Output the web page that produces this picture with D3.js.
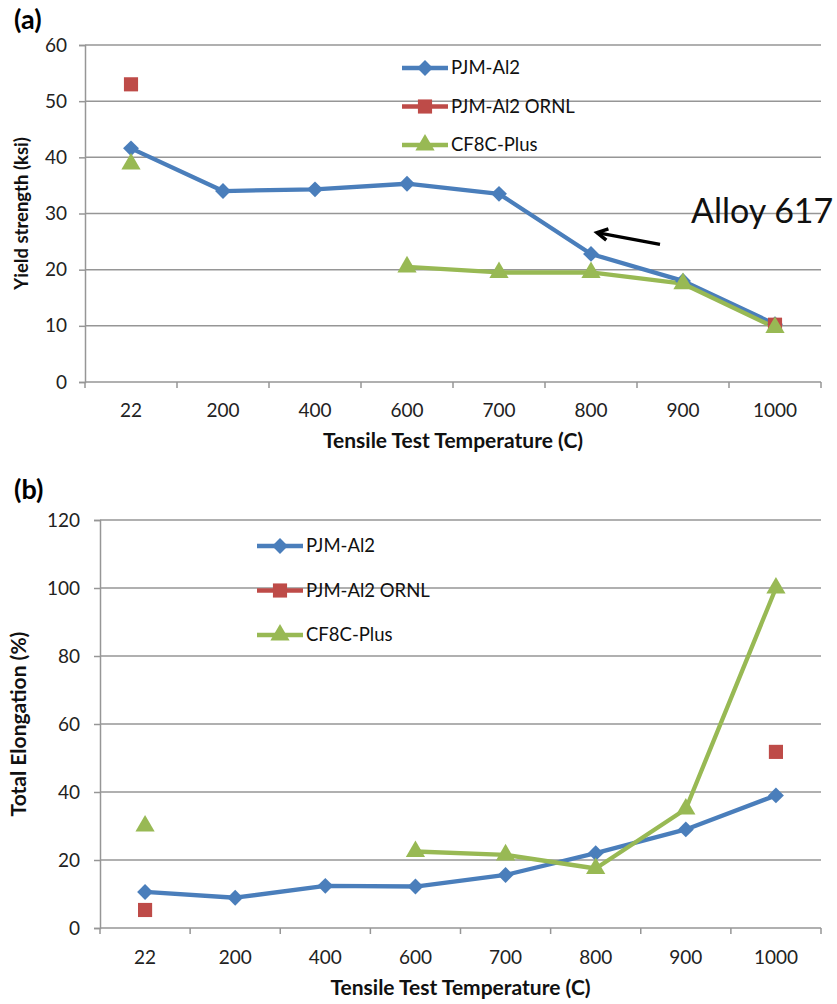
<!DOCTYPE html>
<html><head><meta charset="utf-8">
<script src="https://cdn.jsdelivr.net/npm/d3@7"></script>
<style>body{margin:0;background:#fff}svg{display:block}</style>
</head><body><svg id="c" width="837" height="1004"></svg>
<script>
const categories = ["22","200","400","600","700","800","900","1000"];
const seriesNames = ["PJM-Al2","PJM-Al2 ORNL","CF8C-Plus"];
// (a) Yield strength (ksi)
const yieldPJM  = [41.6, 34.0, 34.3, 35.3, 33.5, 22.8, 18.0, 10.3];
const yieldORNL = [53.0, null, null, null, null, null, null, 10.2];
const yieldCF8C = [38.8, null, null, 20.5, 19.5, 19.5, 17.5, 9.7];
// (b) Total elongation (%)
const elongPJM  = [10.6, 8.9, 12.4, 12.2, 15.6, 22.0, 29.0, 39.0];
const elongORNL = [5.3, null, null, null, null, null, null, 51.8];
const elongCF8C = [30.0, null, null, 22.5, 21.5, 17.5, 35.0, 100.0];
const yTicksA = [0,10,20,30,40,50,60];
const yTicksB = [0,20,40,60,80,100,120];

const colors = ["#4a7ebb","#be4b48","#98b954"];
const font = "Lato, 'Open Sans', sans-serif";
const svg = d3.select("#c");

function marker(g, type, x, y, color){
  if(type===0){
    g.append("path").attr("d",d3.symbol(d3.symbolDiamond2, 160)()).attr("transform",`translate(${x},${y})`).attr("fill",color);
  } else if(type===1){
    g.append("path").attr("d",d3.symbol(d3.symbolSquare, 200)()).attr("transform",`translate(${x},${y})`).attr("fill",color);
  } else {
    g.append("path").attr("d",d3.symbol(d3.symbolTriangle, 160)()).attr("transform",`translate(${x},${y})`).attr("fill",color);
  }
}

function chart(opts){
  const {left,right,top,bottom,yMax,yTicks,series,label,labelY,xTitleY,yTitle,yTitleX,yTitleSize,legendX,legendY,legendGap,xLabelY,tickPad} = opts;
  const g = svg.append("g");
  const x = d3.scaleBand().domain(categories).range([left,right]);
  const y = d3.scaleLinear().domain([0,yMax]).range([bottom,top]);
  const cx = c => x(c)+x.bandwidth()/2;
  g.selectAll(".grid").data(yTicks.filter(t=>t>0)).join("line")
    .attr("x1",left).attr("x2",right).attr("y1",d=>y(d)).attr("y2",d=>y(d))
    .attr("stroke","#969696").attr("stroke-width",1.5);
  const ya = g.append("g").attr("transform",`translate(${left},0)`)
    .call(d3.axisLeft(y).tickValues(yTicks).tickSize(6).tickPadding(tickPad));
  ya.select(".domain").attr("stroke","#969696").attr("stroke-width",1.5);
  ya.selectAll(".tick line").attr("stroke","#969696").attr("stroke-width",1.5);
  ya.selectAll("text").attr("font-family",font).attr("font-size",19).attr("fill","#222");
  const xa = g.append("g").attr("transform",`translate(0,${bottom})`)
    .call(d3.axisBottom(x).tickSize(0).tickPadding(0));
  xa.select(".domain").attr("stroke","#969696").attr("stroke-width",1.5).attr("d",`M${left},0H${right}`);
  xa.selectAll(".tick text").attr("font-family",font).attr("font-size",19).attr("fill","#222").attr("y",xLabelY-bottom).attr("dy","0.35em");
  const bounds = categories.map(c=>x(c)).concat([right]);
  g.selectAll(".xt").data(bounds).join("line")
    .attr("x1",d=>d).attr("x2",d=>d).attr("y1",bottom).attr("y2",bottom+6)
    .attr("stroke","#969696").attr("stroke-width",1.5);
  const line = d3.line().defined(d=>d.v!=null).x(d=>cx(d.c)).y(d=>y(d.v));
  series.forEach((vals,i)=>{
    const pts = categories.map((c,k)=>({c, v: vals[k]}));
    if(i!==1){
      g.append("path").datum(pts).attr("d",line).attr("fill","none")
        .attr("stroke",colors[i]).attr("stroke-width",4.3).attr("stroke-linejoin","round");
    }
  });
  series.forEach((vals,i)=>{
    categories.forEach((c,k)=>{ if(vals[k]!=null) marker(g,i,cx(c),y(vals[k]),colors[i]); });
  });
  seriesNames.forEach((n,i)=>{
    const ly = legendY + i*legendGap;
    g.append("line").attr("x1",legendX).attr("x2",legendX+46).attr("y1",ly).attr("y2",ly)
      .attr("stroke",colors[i]).attr("stroke-width",4.3);
    marker(g,i,legendX+23,ly,colors[i]);
    g.append("text").attr("x",legendX+49).attr("y",ly).attr("dy","0.35em")
      .attr("font-family",font).attr("font-size",18.5).attr("fill","#111").text(n);
  });
  g.append("text").attr("x",(left+right)/2).attr("y",xTitleY).attr("text-anchor","middle")
    .attr("font-family",font).attr("font-weight","bold").attr("font-size",21).attr("fill","#111")
    .text("Tensile Test Temperature (C)");
  g.append("text").attr("transform",`translate(${yTitleX},${(top+bottom)/2}) rotate(-90)`)
    .attr("text-anchor","middle").attr("font-family",font).attr("font-weight","bold").attr("font-size",yTitleSize).attr("fill","#111")
    .text(yTitle);
  g.append("text").attr("x",14).attr("y",labelY).attr("font-family",font).attr("font-weight","bold")
    .attr("font-size",27).attr("fill","#000").text(label);
  return {x,y,cx,g};
}

const a = chart({left:85,right:821,top:45,bottom:382,yMax:60,yTicks:yTicksA,
  series:[yieldPJM,yieldORNL,yieldCF8C],label:"(a)",labelY:29,xTitleY:448,xLabelY:410,tickPad:12,
  yTitle:"Yield strength (ksi)",yTitleX:28,yTitleSize:18.5,legendX:402,legendY:68,legendGap:38.5});
a.g.append("text").attr("x",691).attr("y",223).attr("font-family",font).attr("font-size",34).attr("fill","#111").text("Alloy 617");
const ax1 = a.cx("800")+69, ay1 = a.y(24.5), ax2 = a.cx("800")+6, ay2 = a.y(26.6);
a.g.append("line").attr("x1",ax1).attr("y1",ay1).attr("x2",ax2).attr("y2",ay2).attr("stroke","#000").attr("stroke-width",3.5);
const ang = Math.atan2(ay2-ay1, ax2-ax1);
const hl = 12;
a.g.append("path").attr("d",`M${ax2+hl*Math.cos(ang+Math.PI-0.5)},${ay2+hl*Math.sin(ang+Math.PI-0.5)}L${ax2},${ay2}L${ax2+hl*Math.cos(ang+Math.PI+0.5)},${ay2+hl*Math.sin(ang+Math.PI+0.5)}`)
  .attr("fill","none").attr("stroke","#000").attr("stroke-width",3.5).attr("stroke-linejoin","miter");

chart({left:100,right:821,top:520,bottom:928,yMax:120,yTicks:yTicksB,
  series:[elongPJM,elongORNL,elongCF8C],label:"(b)",labelY:499,xTitleY:995,xLabelY:957,tickPad:14,
  yTitle:"Total Elongation (%)",yTitleX:26,yTitleSize:21,legendX:257,legendY:546,legendGap:44.5});
</script></body></html>
